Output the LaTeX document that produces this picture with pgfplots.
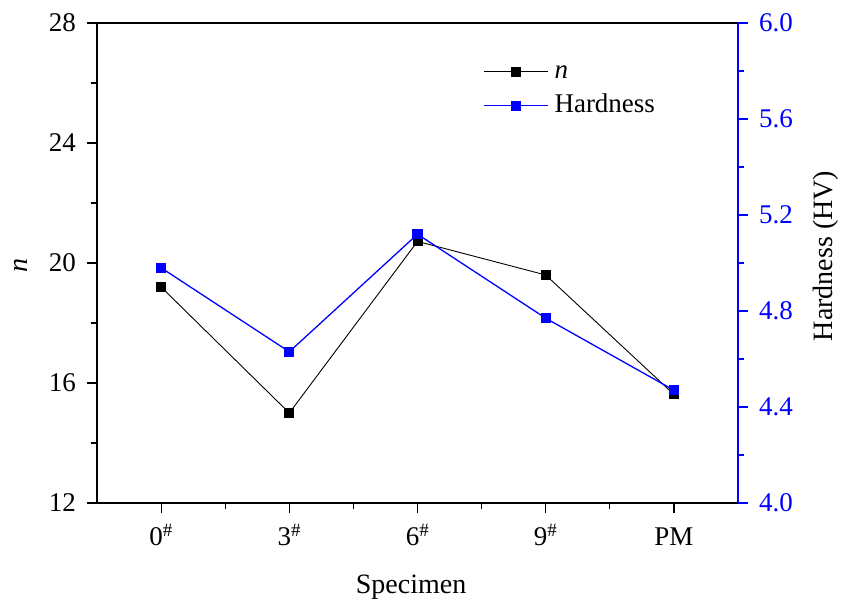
\documentclass[border=0pt]{standalone}
\usepackage{fontspec}
\setmainfont{Liberation Serif}
\usepackage{pgfplots}
\pgfplotsset{compat=1.18}
\definecolor{myblue}{RGB}{0,0,255}
\newcommand{\tickfont}{\fontsize{27}{32}\selectfont}
\newcommand{\labfont}{\fontsize{28}{33}\selectfont}
\begin{document}
\tickfont
\begin{tikzpicture}
\pgfplotsset{
  every axis/.append style={
    at={(0,0)}, anchor=south west,
    scale only axis, width=641pt, height=480pt,
    xmin=-0.5, xmax=4.5,
    tick align=outside,
    major tick length=10pt, minor tick length=6pt,
    /pgf/number format/assume math mode=true,
    tick label style={font=\tickfont},
    label style={font=\labfont},
  },
}
\begin{axis}[
  ymin=12, ymax=28,
  xtick={0,1,2,3,4},
  xticklabels={0\textsuperscript{\#},3\textsuperscript{\#},6\textsuperscript{\#},9\textsuperscript{\#},PM},
  xticklabel style={text height=19pt, text depth=0pt, inner sep=0pt, anchor=north, yshift=-13pt},
  minor xtick={0.5,1.5,2.5,3.5},
  ytick={12,16,20,24,28}, minor ytick={14,18,22,26},
  xtick pos=bottom, ytick pos=left,
  yticklabel style={xshift=-2pt},
  axis line style={line width=1.4pt},
  every tick/.style={line width=1.2pt, black},
  xlabel={Specimen}, ylabel={\textit{n}},
  xlabel style={at={(axis description cs:0.49,0)}, anchor=base, yshift=-90pt},
  ylabel style={at={(axis description cs:-0.1186,0.494)}, anchor=center},
]
\addplot[black, line width=0.9pt, mark=square*, mark size=4.5pt, mark options={solid, fill=black, draw=black}]
 coordinates {(0,19.2) (1,15.0) (2,20.72) (3,19.6) (4,15.62)};
\end{axis}
\begin{axis}[
  ymin=4, ymax=6,
  axis x line=none,
  axis y line*=right,
  y axis line style={myblue, line width=1.6pt},
  ytick={4.0,4.4,...,6.0}, minor ytick={4.2,4.6,5.0,5.4,5.8},
  every tick/.style={line width=1.2pt, myblue},
  yticklabel style={text=myblue, xshift=2pt, /pgf/number format/.cd, fixed, fixed zerofill, precision=1},
  ylabel={Hardness (HV)},
  ylabel style={at={(axis description cs:1.137,0.5146)}, anchor=center},
  legend style={at={(0.6022,0.925)}, anchor=north west, draw=none, fill=none,
    inner sep=0pt, row sep=9pt, column sep=6pt,
    font=\tickfont,
    nodes={inner sep=0pt, text height=19pt, text depth=6pt}},
  legend cell align=left,
]
\addlegendimage{legend image code/.code={\draw[black, line width=0.9pt, mark=square*, mark size=4.5pt, mark options={solid, fill=black, draw=black}, mark repeat=2, mark phase=2] plot coordinates {(0pt,0pt) (32pt,0pt) (64pt,0pt)};}}
\addlegendentry{\textit{n}}
\addlegendimage{legend image code/.code={\draw[myblue, line width=1.3pt, mark=square*, mark size=4.5pt, mark options={solid, fill=myblue, draw=myblue}, mark repeat=2, mark phase=2] plot coordinates {(0pt,0pt) (32pt,0pt) (64pt,0pt)};}}
\addlegendentry{Hardness}
\addplot[forget plot, myblue, line width=1.3pt, mark=square*, mark size=4.5pt, mark options={solid, fill=myblue, draw=myblue}]
 coordinates {(0,4.98) (1,4.63) (2,5.12) (3,4.77) (4,4.47)};
\end{axis}
\pgfresetboundingbox
\path[use as bounding box] (-97pt,-96pt) rectangle (748pt,503pt);
\end{tikzpicture}
\end{document}
